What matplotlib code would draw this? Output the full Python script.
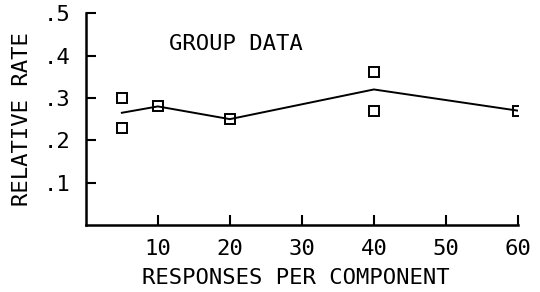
import numpy as np
import matplotlib
matplotlib.use('Agg')
import matplotlib.pyplot as plt

# group data: mean line and individual points
line_x = [5, 10, 20, 40, 60]
line_y = [0.265, 0.28, 0.25, 0.32, 0.27]
pts_x = [5, 5, 10, 20, 40, 40, 60]
pts_y = [0.30, 0.23, 0.28, 0.25, 0.36, 0.27, 0.27]

xticks = [10, 20, 30, 40, 50, 60]
yticks = [0.1, 0.2, 0.3, 0.4, 0.5]
ytick_labels = ['.1', '.2', '.3', '.4', '.5']

plt.rcParams['font.family'] = ['DejaVu Sans Mono']

fig = plt.figure(figsize=(5.4, 2.92), dpi=100)
ax = fig.add_axes([0.159, 0.229, 0.8, 0.726])

ax.plot(line_x, line_y, color='black', lw=1.4)
ax.plot(pts_x, pts_y, linestyle='none', marker='s', markersize=7,
        markerfacecolor='none', markeredgecolor='black', markeredgewidth=1.4)

ax.set_xlim(0, 60)
ax.set_ylim(0, 0.5)
ax.set_xticks(xticks)
ax.set_yticks(yticks)
ax.set_yticklabels(ytick_labels)

for s in ['top', 'right']:
    ax.spines[s].set_visible(False)
for s in ['left', 'bottom']:
    ax.spines[s].set_linewidth(1.8)

ax.tick_params(direction='in', length=7, width=1.5, labelsize=16, pad=10)
ax.tick_params(axis='y', pad=11)

ax.set_xlabel('RESPONSES PER COMPONENT', fontsize=16)
ax.set_ylabel('RELATIVE RATE', fontsize=16)
ax.xaxis.set_label_coords(0.487, -0.2, transform=ax.transAxes)
ax.yaxis.set_label_coords(-0.125, 0.5, transform=ax.transAxes)
ax.text(11.5, 0.427, 'GROUP DATA', fontsize=16, va='center')

fig.savefig('out.png', dpi=100)
